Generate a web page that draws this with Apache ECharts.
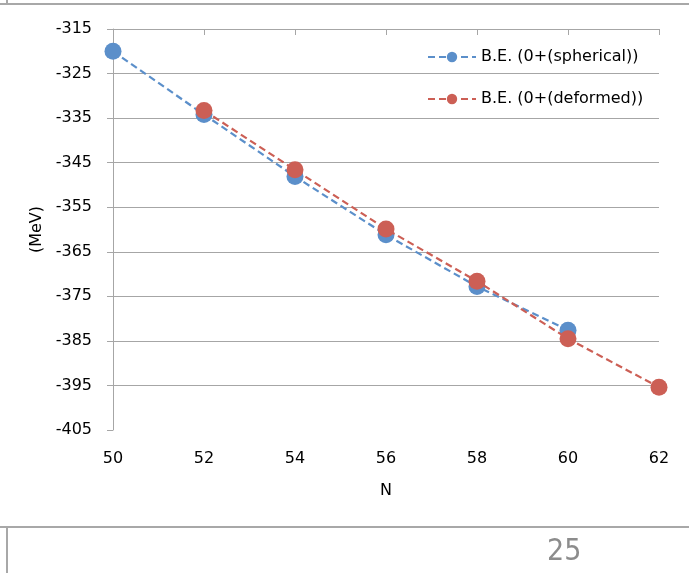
<!DOCTYPE html>
<html>
<head>
<meta charset="utf-8">
<script src="https://cdn.jsdelivr.net/npm/echarts@6/dist/echarts.min.js"></script>
<style>
  html, body { margin: 0; padding: 0; background: #ffffff; }
  #chart { width: 689px; height: 573px; }
</style>
</head>
<body>
<div id="chart"></div>
<script>
// Neutron number N
const nSpherical = [50, 52, 54, 56, 58, 60];
const nDeformed = [52, 54, 56, 58, 60, 62];
// Binding energies (MeV)
const beSpherical = [-320.0, -334.2, -348.1, -361.2, -372.8, -382.6];
const beDeformed = [-333.3, -346.6, -359.9, -371.6, -384.5, -395.4];
// Horizontal gridlines (MeV)
const gridValues = [-325, -335, -345, -355, -365, -375, -385, -395];

const seriesNames = ['B.E. (0+(spherical))', 'B.E. (0+(deformed))'];
const colors = ['#5B8FCA', '#CC5F55'];
const FONT = '"DejaVu Sans"';

const chart = echarts.init(document.getElementById('chart'), null, { renderer: 'canvas' });

function pairs(xs, ys) { return xs.map((x, i) => [x, ys[i]]); }

function lineSeries(idx, data) {
  return {
    name: seriesNames[idx],
    type: 'line',
    xAxisIndex: 0,
    data: data,
    symbol: 'circle',
    symbolSize: 17,
    itemStyle: { color: colors[idx] },
    lineStyle: { color: colors[idx], width: 2.2, type: [7, 4] },
    z: 3 + idx
  };
}

const option = {
  animation: false,
  backgroundColor: '#ffffff',
  grid: { left: 113, right: 30, top: 29, bottom: 143, containLabel: false },
  legend: {
    orient: 'vertical',
    left: 422,
    top: 44,
    itemWidth: 48,
    itemHeight: 13,
    itemGap: 26,
    textStyle: { fontFamily: FONT, fontSize: 16, color: '#000000' },
    data: seriesNames
  },
  xAxis: [
    {
      type: 'value',
      position: 'bottom',
      min: 50, max: 62, interval: 2,
      name: 'N',
      nameLocation: 'middle',
      nameGap: 53,
      nameTextStyle: { fontFamily: FONT, fontSize: 16, color: '#000000' },
      axisLine: { show: false },
      axisTick: { show: false },
      splitLine: { show: false },
      axisLabel: { fontFamily: FONT, fontSize: 16, color: '#000000', margin: 21 }
    },
    {
      type: 'value',
      position: 'top',
      min: 50, max: 62, interval: 2,
      axisLine: { show: true, lineStyle: { color: '#A6A6A6', width: 1 } },
      axisTick: { show: true, inside: true, length: 6, lineStyle: { color: '#A6A6A6' } },
      axisLabel: { show: false },
      splitLine: { show: false }
    }
  ],
  yAxis: {
    type: 'value',
    min: -405, max: -315, interval: 10,
    name: '(MeV)',
    nameLocation: 'middle',
    nameGap: 67,
    nameRotate: 90,
    nameTextStyle: { fontFamily: FONT, fontSize: 16, color: '#000000' },
    axisLine: { show: true, onZero: false, lineStyle: { color: '#A6A6A6', width: 1 } },
    axisTick: { show: true, length: 6, lineStyle: { color: '#A6A6A6' } },
    axisLabel: { fontFamily: FONT, fontSize: 16, color: '#000000', margin: 21 },
    splitLine: { show: false }
  },
  series: [
    Object.assign(lineSeries(0, pairs(nSpherical, beSpherical)), {
      markLine: {
        silent: true,
        symbol: ['none', 'none'],
        label: { show: false },
        lineStyle: { color: '#A6A6A6', width: 1, type: 'solid' },
        data: gridValues.map(v => ({ yAxis: v })),
        z: 1
      }
    }),
    lineSeries(1, pairs(nDeformed, beDeformed))
  ],
  graphic: [
    { type: 'line', shape: { x1: 0, y1: 4, x2: 689, y2: 4 }, style: { stroke: '#A8A8A8', lineWidth: 2 } },
    { type: 'line', shape: { x1: 7, y1: 0, x2: 7, y2: 4 }, style: { stroke: '#A8A8A8', lineWidth: 2 } },
    { type: 'line', shape: { x1: 0, y1: 527, x2: 689, y2: 527 }, style: { stroke: '#A8A8A8', lineWidth: 2 } },
    { type: 'line', shape: { x1: 7, y1: 527, x2: 7, y2: 573 }, style: { stroke: '#A8A8A8', lineWidth: 2 } },
    { type: 'text', left: 547, top: 537, style: { text: '25', font: '30px "Liberation Sans Narrow", "DejaVu Sans Condensed", Roboto', fill: '#8C8C8C' } }
  ]
};

chart.setOption(option);
</script>
</body>
</html>
